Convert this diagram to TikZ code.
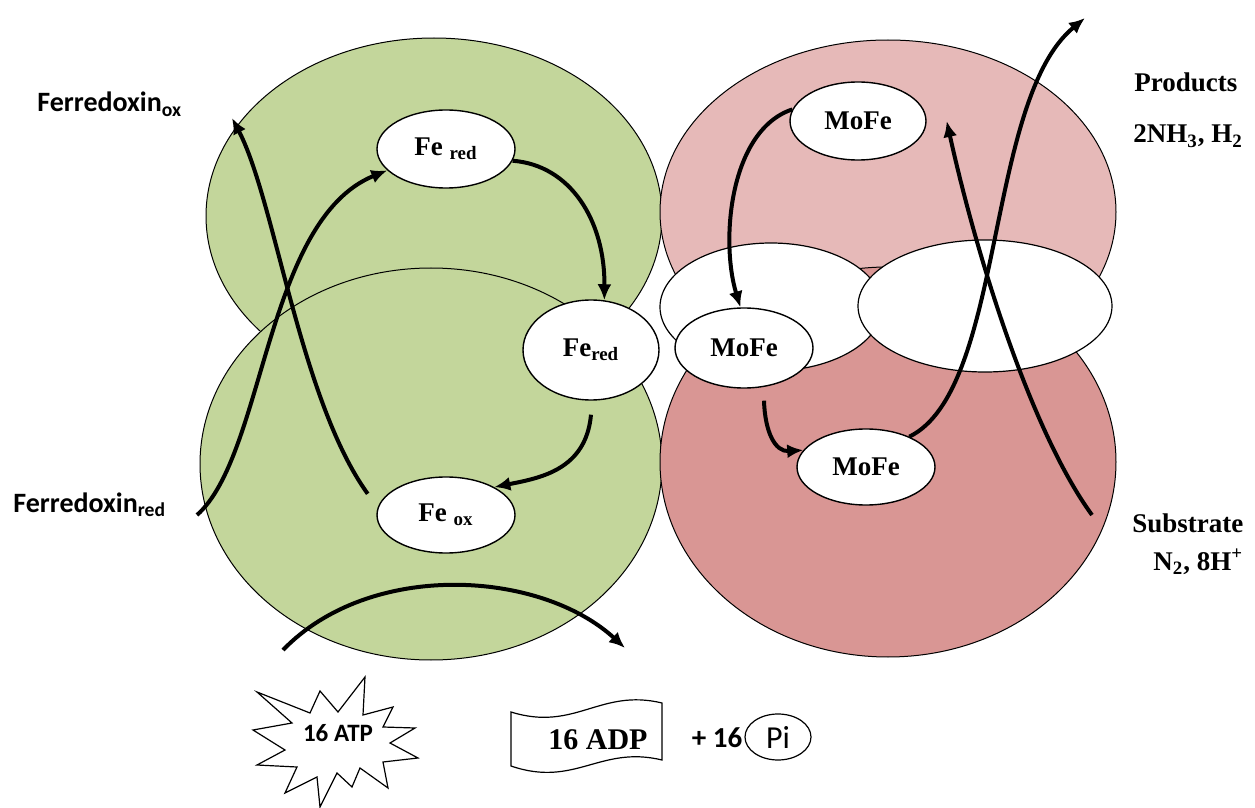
\documentclass[tikz,border=0pt]{standalone}
\usepackage{fontspec}
\setmainfont{Liberation Serif}
\newfontfamily\calfont{Carlito}
\usetikzlibrary{shapes.geometric,arrows.meta}

\definecolor{fegreen}{HTML}{C3D69B}
\definecolor{mopinkA}{HTML}{E6B9B8}
\definecolor{mopinkB}{HTML}{D99694}

\begin{document}
\begin{tikzpicture}[x=0.5pt,y=-0.5pt,
        site/.style={ellipse,draw=black,fill=white,line width=0.7pt,inner sep=0pt,
                     font=\fontsize{13.5}{16}\selectfont\bfseries},
        lbl/.style={inner sep=0pt,font=\fontsize{13.5}{16}\selectfont\bfseries},
        callbl/.style={inner sep=0pt,font=\calfont\bfseries\fontsize{14}{16}\selectfont},
        flux/.style={-{Latex[length=8pt,width=7pt]},line width=2pt}]
        \useasboundingbox (0,0) rectangle (1255,808);

        % Fe protein
        \filldraw[fill=fegreen,draw=black,line width=0.5pt] (434,216) ellipse [x radius=228,y radius=178];
        \filldraw[fill=fegreen,draw=black,line width=0.5pt] (431,464) ellipse [x radius=231,y radius=196];
        % MoFe protein
        \filldraw[fill=mopinkA,draw=black,line width=0.5pt] (888,212) ellipse [x radius=228,y radius=172];
        \filldraw[fill=mopinkB,draw=black,line width=0.5pt] (888,462) ellipse [x radius=228,y radius=195];
        \filldraw[fill=white,draw=black,line width=0.6pt] (771,307) ellipse [x radius=111,y radius=64];
        \filldraw[fill=white,draw=black,line width=0.6pt] (985,306) ellipse [x radius=127,y radius=66];

        \node[site,minimum width=69pt,minimum height=39pt] (feTop) at (446,149) {Fe~\textsubscript{red}};
        \node[site,minimum width=68pt,minimum height=50pt] (feMid) at (591,350) {Fe\textsubscript{red}};
        \node[site,minimum width=69pt,minimum height=38pt] (feOx) at (446,515) {Fe~\textsubscript{ox}};
        \node[site,minimum width=68pt,minimum height=39pt] (moTop) at (858,121) {MoFe};
        \node[site,minimum width=69pt,minimum height=40pt] (moMid) at (744,348) {MoFe};
        \node[site,minimum width=69pt,minimum height=38pt] (moLow) at (866,467) {MoFe};

        % side labels
        \node[callbl,anchor=base west] (fdxOx) at (37,112) {Ferredoxin\textsubscript{ox}};
        \node[callbl,anchor=base west] (fdxRed) at (13,512) {Ferredoxin\textsubscript{red}};
        \node[lbl,anchor=base west] (prod) at (1134,92) {Products};
        \node[lbl,anchor=base west] (prodList) at (1133,143) {2NH\textsubscript{3}, H\textsubscript{2}};
        \node[lbl,anchor=base west] (subs) at (1132,532) {Substrate};
        \node[lbl,anchor=base west] (subsList) at (1153,570) {N\textsubscript{2}, 8H\textsuperscript{+}};

        % ATP burst, ADP banner, Pi
        \draw[line width=0.6pt,fill=white] (257,692) -- (310,713) -- (320,691) -- (338,712) -- (365,677)
            -- (363,715) -- (393,707) -- (383,727) -- (415,728) -- (390,743) -- (418,758)
            -- (383,762) -- (388,788) -- (360,768) -- (352,787) -- (337,773) -- (320,807)
            -- (317,777) -- (285,793) -- (297,767) -- (257,765) -- (285,750) -- (253,730)
            -- (292,723) -- cycle;
        \node[callbl,font=\calfont\bfseries\fontsize{12.5}{14}\selectfont] (atp) at (338,733) {16 ATP};
        \draw[line width=0.6pt,fill=white] (511,712) .. controls (575,732) and (600,688) .. (662,703)
            -- (662,760) .. controls (600,745) and (575,788) .. (511,766) -- cycle;
        \node[lbl,font=\fontsize{15}{17}\selectfont\bfseries] (adp) at (598,740) {16 ADP};
        \node[callbl,font=\calfont\bfseries\fontsize{14.5}{16}\selectfont] (plus) at (717,738) {+ 16};
        \node[ellipse,draw=black,line width=0.6pt,inner sep=0pt,minimum width=33pt,minimum height=23pt,
              font=\calfont\fontsize{16}{18}\selectfont] (pi) at (778,737) {Pi};

        % electron flow
        \coordinate (oxEnd) at (232,118);
        \coordinate (redStart) at (197,515);
        \coordinate (atpOut) at (283,650);
        \coordinate (adpIn) at (625,648);
        \coordinate (prodEnd) at (1085,18);
        \coordinate (subStart) at (1092,515);

        \draw[flux] (feTop.-10) .. controls (570,165) and (605,220) .. (feMid.75);
        \draw[flux] ([yshift=-7pt]feMid.south) .. controls (586,470) and (540,478) .. (feOx.30);
        \draw[flux] ([xshift=-10pt]feOx.160) .. controls (300,400) and (275,200) .. (oxEnd);
        \draw[flux] (redStart) .. controls (265,455) and (265,220) .. (feTop.200);
        \draw[flux] (atpOut) .. controls (370,560) and (540,570) .. (adpIn);

        \draw[flux] (moTop.170) .. controls (730,130) and (720,240) .. (moMid.95);
        \draw[flux] ([xshift=10pt,yshift=-6pt]moMid.south) .. controls (765,432) and (775,452) .. (moLow.165);
        \draw[flux] (moLow.35) .. controls (1005,390) and (985,100) .. (prodEnd);
        \draw[flux] (subStart) .. controls (1030,430) and (975,250) .. ([xshift=10pt]moTop.east);
\end{tikzpicture}
\end{document}
